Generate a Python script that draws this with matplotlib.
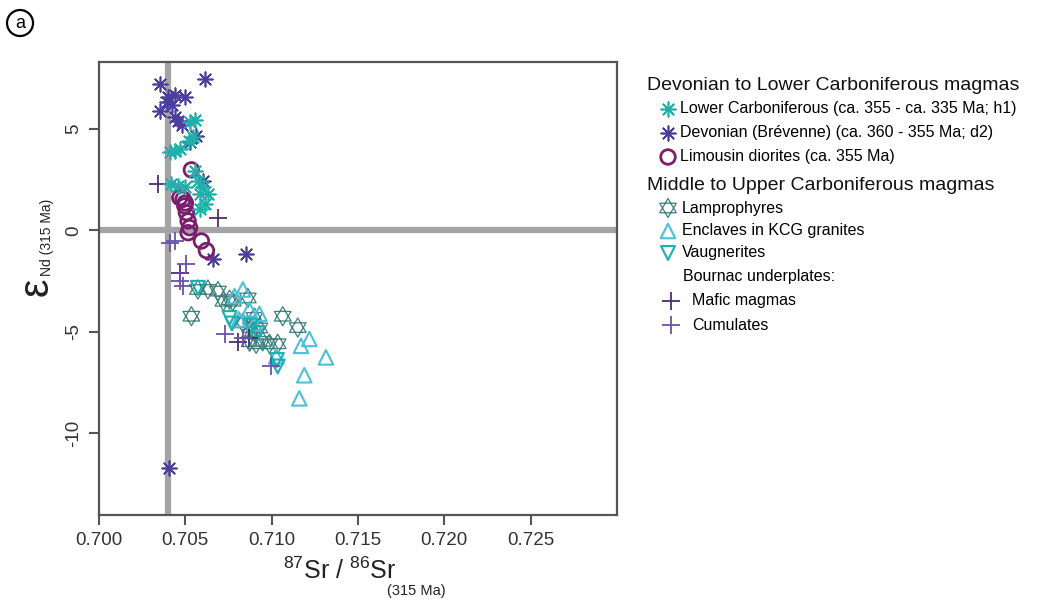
import matplotlib
matplotlib.use("Agg")
import matplotlib.pyplot as plt
from matplotlib.path import Path
import numpy as np

plt.rcParams['font.family'] = ['Liberation Sans', 'DejaVu Sans']
plt.rcParams['mathtext.fontset'] = 'custom'
plt.rcParams['mathtext.rm'] = 'Liberation Sans'

# --- data: (87Sr/86Sr, eNd) ---
lowcarb_x = [0.70525, 0.70555, 0.70545, 0.70520, 0.70439, 0.70410, 0.70468, 0.70554,
             0.70419, 0.70458, 0.70497, 0.70602, 0.70631, 0.70612, 0.70583, 0.70583, 0.70575]
lowcarb_y = [5.33, 5.45, 4.58, 4.40, 3.93, 3.84, 4.00, 2.94,
             2.28, 2.19, 2.11, 2.11, 1.78, 1.29, 1.04, 1.78, 2.45]

devon_x = [0.70352, 0.70612, 0.70400, 0.70439, 0.70497, 0.70420, 0.70352, 0.70391,
           0.70458, 0.70440, 0.70564, 0.70525, 0.70602, 0.70853, 0.70660, 0.70404, 0.70480]
devon_y = [7.23, 7.47, 6.56, 6.65, 6.56, 6.20, 5.90, 6.32,
           5.41, 5.60, 4.67, 4.34, 2.44, -1.15, -1.44, -11.72, 5.20]

limou_x = [0.70535, 0.70487, 0.70497, 0.70506, 0.70516, 0.70525, 0.70516, 0.70593,
           0.70622, 0.70468, 0.70500]
limou_y = [2.98, 1.53, 1.20, 0.87, 0.46, 0.13, -0.12, -0.53, -1.00, 1.61, 1.35]

lamp_x = [0.70573, 0.70631, 0.70689, 0.70756, 0.70862, 0.70535, 0.70720, 0.70775,
          0.71064, 0.71151, 0.70833, 0.70891, 0.70929, 0.70948, 0.70987, 0.71035,
          0.70872, 0.70910, 0.70900, 0.70880]
lamp_y = [-2.92, -2.92, -3.00, -3.42, -3.34, -4.24, -3.50, -3.50,
          -4.24, -4.80, -4.57, -4.99, -4.82, -5.48, -5.60, -5.60,
          -5.50, -5.60, -4.30, -4.80]

encl_x = [0.70833, 0.70785, 0.70929, 0.71218, 0.71170, 0.71314, 0.71189, 0.71160,
          0.71026, 0.70870, 0.70810, 0.70900]
encl_y = [-2.92, -3.25, -4.12, -5.36, -5.70, -6.27, -7.15, -8.29,
          -6.22, -3.90, -4.40, -4.60]

vaug_x = [0.70573, 0.70756, 0.70770, 0.70919, 0.71035, 0.71030, 0.70880]
vaug_y = [-2.84, -4.33, -4.60, -5.07, -6.72, -6.40, -4.70]

mafic_x = [0.70342, 0.70689, 0.70468, 0.70804, 0.70870]
mafic_y = [2.28, 0.60, -2.10, -5.50, -5.30]

cumul_x = [0.70410, 0.70439, 0.70506, 0.70487, 0.70470, 0.70728, 0.70997, 0.70833]
cumul_y = [-0.61, -0.53, -1.68, -2.76, -2.50, -5.10, -6.72, -5.30]

c_lowcarb = '#1fb0aa'
c_devon = '#4b3d9e'
c_limou = '#7a1f6e'
c_lamp = '#3f807c'
c_encl = '#4cc0da'
c_vaug = '#1aafb0'
c_mafic = '#4a2f73'
c_cumul = '#6a52aa'

# star of David marker (two overlaid triangles)
hv = [(0, 1), (-0.866, -0.5), (0.866, -0.5), (0, 1),
      (0, -1), (-0.866, 0.5), (0.866, 0.5), (0, -1)]
hc = [Path.MOVETO, Path.LINETO, Path.LINETO, Path.CLOSEPOLY] * 2
hexa = Path(hv, hc)
ast = (8, 2, 0)

fig = plt.figure(figsize=(10.43, 6.06), dpi=100)
ax = fig.add_axes([0.0949, 0.150, 0.4967, 0.7477])

# reference lines
ax.axhline(0, color='#a4a4a4', lw=4.5, zorder=1)
ax.axvline(0.7040, color='#a4a4a4', lw=4.5, zorder=1)

ax.scatter(lamp_x, lamp_y, marker=hexa, s=190, facecolors='none', edgecolors=c_lamp, linewidths=0.9, zorder=3)
ax.scatter(encl_x, encl_y, marker='^', s=110, facecolors='none', edgecolors=c_encl, linewidths=1.5, zorder=3)
ax.scatter(vaug_x, vaug_y, marker='v', s=100, facecolors='none', edgecolors=c_vaug, linewidths=1.5, zorder=3)
ax.scatter(mafic_x, mafic_y, marker='+', s=150, color=c_mafic, linewidths=1.3, zorder=4)
ax.scatter(cumul_x, cumul_y, marker='+', s=150, color=c_cumul, linewidths=1.3, zorder=4)
ax.scatter(devon_x, devon_y, marker=ast, s=110, color=c_devon, linewidths=1.2, zorder=4)
ax.scatter(limou_x, limou_y, marker='o', s=110, facecolors='none', edgecolors=c_limou, linewidths=2, zorder=5)
ax.scatter(lowcarb_x, lowcarb_y, marker=ast, s=110, color=c_lowcarb, linewidths=1.2, zorder=5)

ax.set_xlim(0.700, 0.730)
ax.set_ylim(-14.05, 8.3)
ax.set_xticks([0.700, 0.705, 0.710, 0.715, 0.720, 0.725])
ax.set_xticklabels(['0.700', '0.705', '0.710', '0.715', '0.720', '0.725'])
ax.set_yticks([-10, -5, 0, 5])
ax.set_yticklabels(['-10', '-5', '0', '5'], rotation=90, va='center')
ax.tick_params(direction='out', length=7, width=1.5, color='#555555', labelsize=13.5,
               labelcolor='#333333', pad=5)
for sp in ax.spines.values():
    sp.set_color('#555555')
    sp.set_linewidth(1.6)

# x label with lowered subscript
fig.text(340 / 1043, 1 - 571 / 606, r'$^{87}$Sr / $^{86}$Sr', fontsize=18, ha='center', va='center', color='#222222')
fig.text(416 / 1043, 1 - 591 / 606, '(315 Ma)', fontsize=10.5, ha='center', va='center', color='#222222')

# y label: big epsilon with small subscript
fig.text(37 / 1043, 1 - 287 / 606, 'ε', fontsize=30, rotation=90, ha='center', va='center', color='#222222')
fig.text(47 / 1043, 1 - 237 / 606, 'Nd (315 Ma)', fontsize=10, rotation=90, ha='center', va='center', color='#222222')

fig.text(0.0192, 0.962, 'a', fontsize=13, ha='center', va='center',
         bbox=dict(boxstyle='circle,pad=0.25', fc='none', ec='black', lw=1.6))

# legend drawn on a pixel-coordinate overlay
lax = fig.add_axes([0, 0, 1, 1])
lax.set_xlim(0, 1043)
lax.set_ylim(606, 0)
lax.axis('off')

hfs = 14
efs = 11.5
lax.text(647, 85, 'Devonian to Lower Carboniferous magmas', fontsize=hfs, va='center', color='#111111')
lax.scatter([668], [109], marker=ast, s=110, color=c_lowcarb, linewidths=1.2)
lax.text(680, 109, 'Lower Carboniferous (ca. 355 - ca. 335 Ma; h1)', fontsize=efs, va='center')
lax.scatter([668], [133], marker=ast, s=110, color=c_devon, linewidths=1.2)
lax.text(680, 133, 'Devonian (Brévenne) (ca. 360 - 355 Ma; d2)', fontsize=efs, va='center')
lax.scatter([668], [157], marker='o', s=110, facecolors='none', edgecolors=c_limou, linewidths=2)
lax.text(680, 157, 'Limousin diorites (ca. 355 Ma)', fontsize=efs, va='center')
lax.text(647, 185, 'Middle to Upper Carboniferous magmas', fontsize=hfs, va='center', color='#111111')
lax.scatter([668], [208], marker=hexa, s=190, facecolors='none', edgecolors=c_lamp, linewidths=0.9)
lax.text(682, 208, 'Lamprophyres', fontsize=efs, va='center')
lax.scatter([668], [231], marker='^', s=110, facecolors='none', edgecolors=c_encl, linewidths=1.5)
lax.text(682, 231, 'Enclaves in KCG granites', fontsize=efs, va='center')
lax.scatter([668], [253], marker='v', s=100, facecolors='none', edgecolors=c_vaug, linewidths=1.5)
lax.text(682, 253, 'Vaugnerites', fontsize=efs, va='center')
lax.text(683, 277, 'Bournac underplates:', fontsize=efs, va='center')
lax.scatter([671], [301], marker='+', s=150, color=c_mafic, linewidths=1.3)
lax.text(692, 301, 'Mafic magmas', fontsize=efs, va='center')
lax.scatter([671], [325], marker='+', s=150, color=c_cumul, linewidths=1.3)
lax.text(692, 325, 'Cumulates', fontsize=efs, va='center')

fig.savefig('out.png', dpi=100)
